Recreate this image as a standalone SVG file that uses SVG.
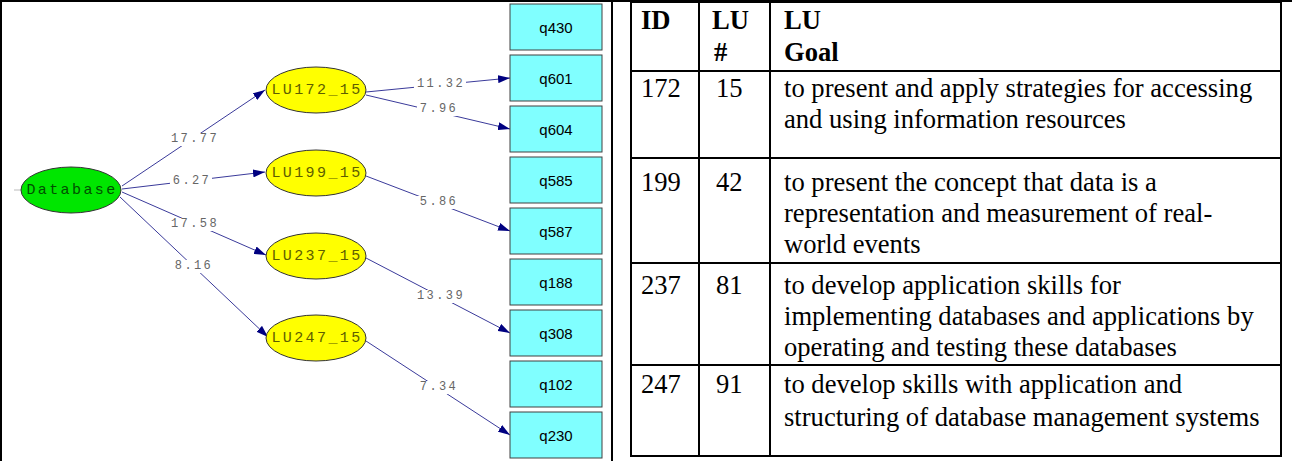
<svg xmlns="http://www.w3.org/2000/svg" width="1292" height="461" viewBox="0 0 1292 461">
<style>
.box{fill:#80FFFF;stroke:#404040;stroke-width:1}
.btxt{font-family:"Liberation Sans",Arial,sans-serif;font-size:15px;fill:#000;text-anchor:middle;dominant-baseline:central}
.lat{fill:#FFFF00;stroke:#333;stroke-width:1}
.ltxt{font-family:"Liberation Mono","Courier New",monospace;font-size:15px;fill:#5E5E00;text-anchor:middle;dominant-baseline:central;letter-spacing:2.4px}
.db{fill:#00E600;stroke:#333;stroke-width:1}
.dtxt{font-family:"Liberation Mono","Courier New",monospace;font-size:15px;fill:#005000;text-anchor:middle;dominant-baseline:central;letter-spacing:2.4px}
.edge{stroke:#3A3A9A;stroke-width:1;fill:none;marker-end:url(#ah)}
.lbg{fill:#fff}
.elab{font-family:"Liberation Mono","Courier New",monospace;font-size:12px;fill:#666;text-anchor:middle;dominant-baseline:central;letter-spacing:2.4px}
.tbl{stroke:#000;stroke-width:2;fill:none}
.tt{font-family:"Liberation Serif","Times New Roman",serif;font-size:26.6px;fill:#000}
.th{font-family:"Liberation Serif","Times New Roman",serif;font-size:26.6px;font-weight:bold;fill:#000}
</style>
<defs>
<marker id="ah" viewBox="0 0 12 8" refX="12" refY="4" markerWidth="12" markerHeight="8" markerUnits="userSpaceOnUse" orient="auto">
<path d="M0,0 L12,4 L0,8 Z" fill="#000080"/>
</marker>
</defs>
<rect x="0" y="0" width="1292" height="461" fill="#fff"/>
<g id="frame">
<line x1="0" y1="1" x2="1292" y2="1" stroke="#000" stroke-width="2"/>
<line x1="1" y1="0" x2="1" y2="461" stroke="#000" stroke-width="2"/>
<line x1="612" y1="0" x2="612" y2="461" stroke="#000" stroke-width="2"/>
</g>
<g id="connectors">
<line class="edge" x1="122" y1="186" x2="265" y2="90"/>
<line class="edge" x1="122" y1="189" x2="265" y2="172"/>
<line class="edge" x1="122" y1="192" x2="266" y2="255"/>
<line class="edge" x1="120" y1="197" x2="268" y2="337"/>
<line class="edge" x1="366" y1="92" x2="510" y2="78"/>
<line class="edge" x1="366" y1="95" x2="510" y2="129"/>
<line class="edge" x1="366" y1="176" x2="510" y2="231"/>
<line class="edge" x1="366" y1="258" x2="510" y2="333"/>
<line class="edge" x1="366" y1="341" x2="510" y2="435"/>
<line x1="14" y1="190" x2="21" y2="190" stroke="#bbb" stroke-width="1"/>
<rect class="lbg" x="168" y="133" width="52" height="13"/>
<rect class="lbg" x="170" y="175" width="42" height="13"/>
<rect class="lbg" x="168" y="218" width="52" height="13"/>
<rect class="lbg" x="172" y="260" width="42" height="13"/>
<rect class="lbg" x="414" y="78" width="52" height="13"/>
<rect class="lbg" x="417" y="103" width="42" height="13"/>
<rect class="lbg" x="417" y="196" width="42" height="13"/>
<rect class="lbg" x="414" y="290" width="52" height="13"/>
<rect class="lbg" x="417" y="381" width="42" height="13"/>
<text class="elab" x="195" y="139">17.77</text>
<text class="elab" x="192" y="181">6.27</text>
<text class="elab" x="195" y="224">17.58</text>
<text class="elab" x="194" y="266">8.16</text>
<text class="elab" x="441" y="84">11.32</text>
<text class="elab" x="439" y="109">7.96</text>
<text class="elab" x="439" y="202">5.86</text>
<text class="elab" x="441" y="296">13.39</text>
<text class="elab" x="439" y="387">7.34</text>
</g>
<g id="Database"><ellipse class="db" cx="71" cy="190" rx="50" ry="23"/><text class="dtxt" x="72" y="190">Database</text></g>
<g id="LU172_15"><ellipse class="lat" cx="316" cy="90" rx="50" ry="23"/><text class="ltxt" x="317" y="90">LU172_15</text></g>
<g id="LU199_15"><ellipse class="lat" cx="316" cy="173" rx="50" ry="23"/><text class="ltxt" x="317" y="173">LU199_15</text></g>
<g id="LU237_15"><ellipse class="lat" cx="316" cy="256" rx="50" ry="23"/><text class="ltxt" x="317" y="256">LU237_15</text></g>
<g id="LU247_15"><ellipse class="lat" cx="316" cy="338" rx="50" ry="23"/><text class="ltxt" x="317" y="338">LU247_15</text></g>
<g id="q430"><rect class="box" x="510" y="4" width="92" height="46"/><text class="btxt" x="556" y="27">q430</text></g>
<g id="q601"><rect class="box" x="510" y="55" width="92" height="46"/><text class="btxt" x="556" y="78">q601</text></g>
<g id="q604"><rect class="box" x="510" y="106" width="92" height="46"/><text class="btxt" x="556" y="129">q604</text></g>
<g id="q585"><rect class="box" x="510" y="157" width="92" height="46"/><text class="btxt" x="556" y="180">q585</text></g>
<g id="q587"><rect class="box" x="510" y="208" width="92" height="46"/><text class="btxt" x="556" y="231">q587</text></g>
<g id="q188"><rect class="box" x="510" y="259" width="92" height="46"/><text class="btxt" x="556" y="282">q188</text></g>
<g id="q308"><rect class="box" x="510" y="310" width="92" height="46"/><text class="btxt" x="556" y="333">q308</text></g>
<g id="q102"><rect class="box" x="510" y="361" width="92" height="46"/><text class="btxt" x="556" y="384">q102</text></g>
<g id="q230"><rect class="box" x="510" y="412" width="92" height="46"/><text class="btxt" x="556" y="435">q230</text></g>
<g id="table">
<rect class="tbl" x="631" y="2" width="650" height="454"/>
<line class="tbl" x1="699" y1="2" x2="699" y2="456"/>
<line class="tbl" x1="770" y1="2" x2="770" y2="456"/>
<line class="tbl" x1="631" y1="71" x2="1281" y2="71"/>
<line class="tbl" x1="631" y1="158" x2="1281" y2="158"/>
<line class="tbl" x1="631" y1="263" x2="1281" y2="263"/>
<line class="tbl" x1="631" y1="365" x2="1281" y2="365"/>
<text class="th" x="641" y="29">ID</text>
<text class="th" x="712" y="29">LU</text>
<text class="th" x="714" y="61">#</text>
<text class="th" x="784" y="29">LU</text>
<text class="th" x="784" y="61">Goal</text>
<text class="tt" x="641" y="97">172</text>
<text class="tt" x="716" y="97">15</text>
<text class="tt" x="784" y="97">to present and apply strategies for accessing</text>
<text class="tt" x="784" y="128">and using information resources</text>
<text class="tt" x="641" y="191">199</text>
<text class="tt" x="716" y="191">42</text>
<text class="tt" x="784" y="191">to present the concept that data is a</text>
<text class="tt" x="784" y="222">representation and measurement of real-</text>
<text class="tt" x="784" y="253">world events</text>
<text class="tt" x="641" y="294">237</text>
<text class="tt" x="716" y="294">81</text>
<text class="tt" x="784" y="294">to develop application skills for</text>
<text class="tt" x="784" y="325">implementing databases and applications by</text>
<text class="tt" x="784" y="356">operating and testing these databases</text>
<text class="tt" x="641" y="393">247</text>
<text class="tt" x="716" y="393">91</text>
<text class="tt" x="784" y="393">to develop skills with application and</text>
<text class="tt" x="784" y="426">structuring of database management systems</text>
</g>
</svg>
